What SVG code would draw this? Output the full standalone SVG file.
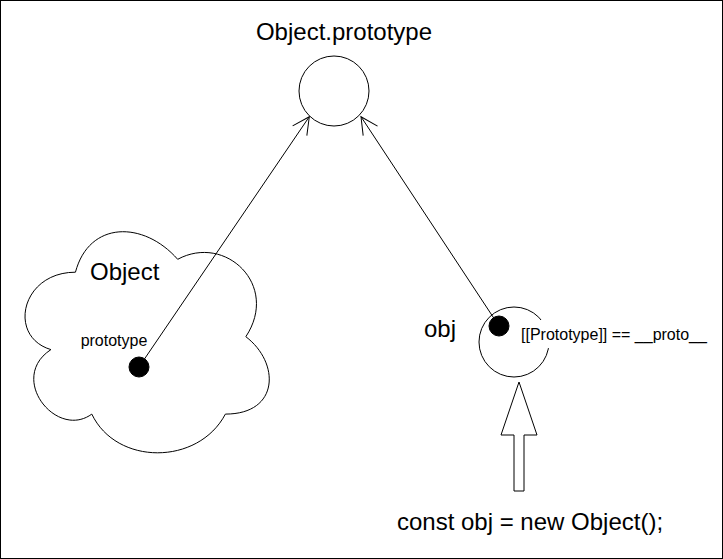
<svg xmlns="http://www.w3.org/2000/svg" width="723" height="559" viewBox="0 0 723 559">
  <style>
    .shape { fill: #ffffff; stroke: #000000; stroke-width: 1; }
    .dot { fill: #000000; stroke: #000000; stroke-width: 1; }
    .edge { fill: none; stroke: #000000; stroke-width: 1; }
    .t { font-family: "Liberation Sans", Arial, sans-serif; fill: #000000; }
    .big { font-size: 24px; }
    .small { font-size: 16px; }
  </style>
  <defs>
    <marker id="open" viewBox="-19 -11 21 22" markerWidth="21" markerHeight="22" refX="0" refY="0" orient="auto" markerUnits="userSpaceOnUse" overflow="visible">
      <path d="M -17 -8.6 L 0 0 L -17 8.6" fill="none" stroke="#000000" stroke-width="1"/>
    </marker>
  </defs>
  <rect x="0.5" y="0.5" width="722" height="558" fill="#ffffff" stroke="#000000" stroke-width="1"/>

  <g id="object-prototype">
    <circle class="shape" cx="334" cy="91" r="35"/>
    <text class="t big" x="344" y="39.5" text-anchor="middle">Object.prototype</text>
  </g>

  <g id="object-cloud">
    <path class="shape" d="M 75.45 272.2 C 20.93 272.2 7.3 336.7 50.92 349.6 C 7.3 377.98 56.37 439.9 91.81 414.1 C 116.34 465.7 198.12 465.7 225.38 414.1 C 279.9 414.1 279.9 362.5 245.83 336.7 C 279.9 285.1 225.38 233.5 177.68 259.3 C 143.6 220.6 89.08 220.6 75.45 272.2 Z"/>
    <text class="t big" x="90" y="280">Object</text>
    <text class="t small" x="114" y="346" text-anchor="middle">prototype</text>
  </g>

  <g id="obj">
    <circle class="shape" cx="514" cy="342" r="35"/>
    <text class="t big" x="424" y="337">obj</text>
  </g>

  <g id="proto-label">
    <rect x="519" y="320" width="190" height="28" fill="#ffffff" stroke="none"/>
    <text class="t small" x="521" y="339.5">[[Prototype]] == __proto__</text>
  </g>

  <g id="new-object">
    <path class="shape" d="M 519 382 L 537 435 L 524 435 L 524 491 L 514 491 L 514 435 L 501 435 Z"/>
    <text class="t big" x="530" y="529.5" text-anchor="middle">const obj = new Object();</text>
  </g>

  <g id="connectors">
    <line class="edge" x1="139" y1="367" x2="309.3" y2="116.7" marker-end="url(#open)"/>
    <line class="edge" x1="499" y1="326" x2="361" y2="116.7" marker-end="url(#open)"/>
  </g>

  <g id="prototype-dot">
    <circle class="dot" cx="139" cy="367" r="10"/>
  </g>
  <g id="obj-dot">
    <circle class="dot" cx="499" cy="326" r="10"/>
  </g>
</svg>
